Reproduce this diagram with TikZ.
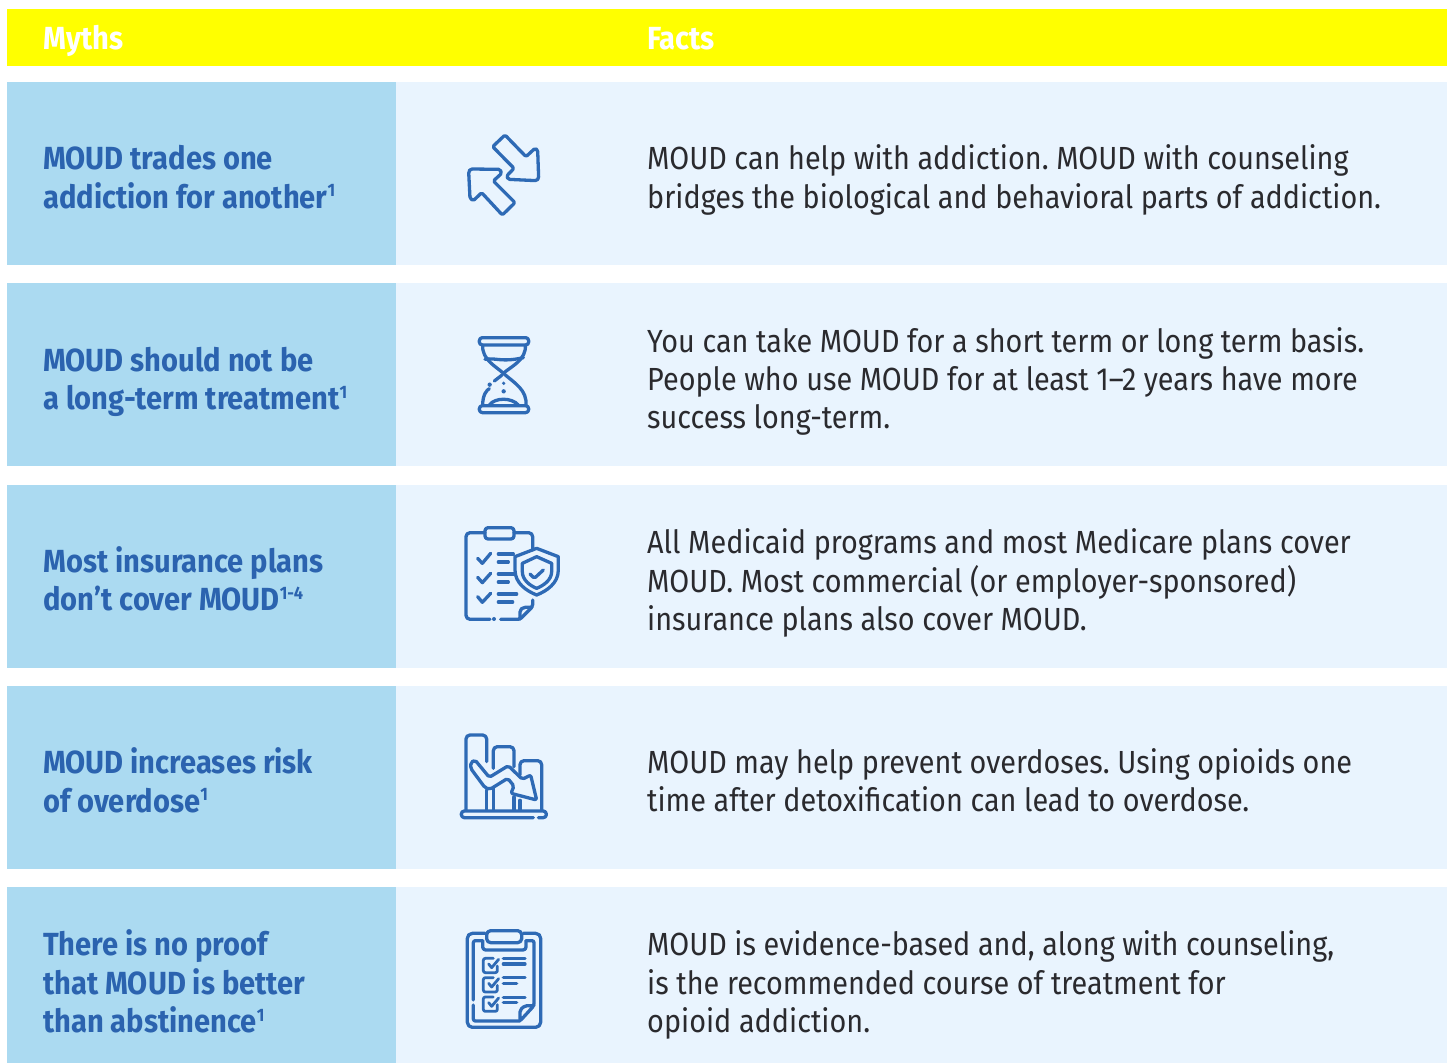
\documentclass[tikz,border=0pt]{standalone}
\usepackage{fontspec}
\setmainfont{Fira Sans}[FakeStretch=0.90]
\newfontfamily\mythfont{Fira Sans}[FakeStretch=0.91]
\definecolor{hdr}{HTML}{FFFF00}
\definecolor{mythbg}{HTML}{ABDAF1}
\definecolor{factbg}{HTML}{E9F4FE}
\definecolor{ink}{HTML}{2B63AF}
\definecolor{facttxt}{HTML}{2A2A2E}
\definecolor{ic}{HTML}{2E6AB5}
\newcommand\supr[1]{\raisebox{.36em}{\fontsize{18}{18}\selectfont #1}}
\tikzset{
 myth/.style={anchor=west,inner sep=0pt,align=left,text=ink,font=\mythfont\fontsize{32}{38.5}\selectfont\bfseries\frenchspacing},
 fact/.style={anchor=west,inner sep=0pt,align=left,text=facttxt,font=\fontsize{32}{38.4}\selectfont\frenchspacing},
 head/.style={anchor=base west,inner sep=0pt,text=white,font=\mythfont\fontsize{32}{38}\selectfont\bfseries},
 icon/.style={draw=ic,line width=#1,line cap=round,line join=round,rounded corners=1.5pt},
 icon/.default=3.3pt
}
\begin{document}
\begin{tikzpicture}[x=1pt,y=-1pt]
\useasboundingbox (0,0) rectangle (1448,1063);
\fill[white] (0,0) rectangle (1448,1063);
\fill[hdr] (7,9) rectangle (1447,66);
\node[head] (hm) at (43,49) {Myths};
\node[head] (hf) at (647,49) {Facts};
% rows
\foreach \t/\b/\n in {82/265/1,283/466/2,485/668/3,686/869/4,887/1063/5}{
 \fill[mythbg] (7,\t) rectangle (396,\b);
 \fill[factbg] (396,\t) rectangle (1447,\b);
}
\node[myth] (m1) at (43,177) {MOUD trades one\\addiction for another\supr{1}};
\node[myth] (m2) at (43,382) {MOUD should not be\\a long-term treatment\supr{1}};
\node[myth] (m3) at (43,579) {Most insurance plans\\don’t cover MOUD\supr{1-4}};
\node[myth] (m4) at (43,780.5) {MOUD increases risk\\of overdose\supr{1}};
\node[myth] (m5) at (43,981.5) {There is no proof\\that MOUD is better\\than abstinence\supr{1}};
\node[fact] (f1) at (647,180) {MOUD can help with addiction. MOUD with counseling\\bridges the biological and behavioral parts of addiction.};
\node[fact] (f2) at (647,381.5) {You can take MOUD for a short term or long term basis.\\People who use MOUD for at least 1–2 years have more\\success long-term.};
\node[fact] (f3) at (647,583) {All Medicaid programs and most Medicare plans cover\\MOUD. Most commercial (or employer-sponsored)\\insurance plans also cover MOUD.};
\node[fact] (f4) at (647,780.5) {MOUD may help prevent overdoses. Using opioids one\\time after detoxification can lead to overdose.};
\node[fact] (f5) at (647,985) {MOUD is evidence-based and, along with counseling,\\is the recommended course of treatment for\\opioid addiction.};
% icon 1
\begin{scope}[xshift=440pt,yshift=-110pt,x=.3333pt,y=-.3333pt]
\draw[icon] (195,75) -- (158,110) -- (222,175) -- (200,198) -- (205,208) -- (290,212) -- (296,205) -- (293,120) -- (285,115) -- (258,140) -- cycle;
\draw[icon] (187,315) -- (225,278) -- (160,213) -- (185,190) -- (180,178) -- (92,177) -- (86,185) -- (90,265) -- (100,272) -- (125,248) -- cycle;
\end{scope}
% icon 2
\begin{scope}[xshift=440pt,yshift=-320pt,x=.3333pt,y=-.3333pt]
\draw[icon,rounded corners=3pt] (118,53) rectangle (266,75);
\draw[icon,rounded corners=3pt] (118,257) rectangle (266,278);
\draw[icon,rounded corners=0pt] (128,75) .. controls (125,120) and (170,140) .. (190,160) .. controls (212,140) and (260,120) .. (256,75);
\draw[icon,rounded corners=0pt] (190,160) .. controls (225,190) and (262,210) .. (258,257);
\draw[icon,rounded corners=0pt] (128,255) .. controls (128,225) and (140,210) .. (148,206);
\draw[icon,rounded corners=0pt] (163,183) -- (185,166);
\draw[icon,rounded corners=0pt] (135,118) .. controls (165,112) and (185,128) .. (250,113);
\draw[icon,rounded corners=0pt] (148,255) .. controls (165,232) and (215,232) .. (235,255);
\fill[ic] (149,194) circle (6.5);
\fill[ic] (191,190) circle (5.5);
\fill[ic] (191,214) circle (6.5);
\end{scope}
% icon 3
\begin{scope}[xshift=440pt,yshift=-515pt,x=.3333pt,y=-.3333pt]
\draw[icon,rounded corners=3pt] (135,38) rectangle (222,72);
\draw[icon,rounded corners=4pt] (135,53) -- (78,53) -- (78,313) -- (150,313);
\draw[icon,rounded corners=4pt] (222,53) -- (278,53) -- (278,105);
\draw[icon,rounded corners=2pt] (182,313) -- (240,313) -- (278,275) -- (278,255);
\draw[icon,rounded corners=2pt] (240,313) -- (240,285) -- (250,277) -- (276,277);
\fill[ic] (162,312) circle (6);
\draw[icon,rounded corners=0pt] (290,100) -- (355,125) -- (355,165) .. controls (355,205) and (320,228) .. (290,240) .. controls (260,228) and (225,205) .. (225,165) -- (225,125) -- cycle;
\draw[icon,rounded corners=0pt] (290,125) -- (335,145) -- (335,170) .. controls (335,195) and (310,212) .. (290,220) .. controls (270,212) and (247,195) .. (247,170) -- (247,145) -- cycle;
\draw[icon] (270,177) -- (283,190) -- (310,165);
\draw[icon,rounded corners=0pt] (113,130) -- (127,145) -- (152,115);
\draw[icon,rounded corners=0pt] (113,187) -- (127,203) -- (152,175);
\draw[icon,rounded corners=0pt] (113,245) -- (127,262) -- (152,235);
\draw[icon] (175,117) -- (220,117) (175,141) -- (205,141) (175,177) -- (220,177) (175,201) -- (205,201) (175,237) -- (230,237) (175,261) -- (218,261);
\end{scope}
% icon 4
\begin{scope}[xshift=440pt,yshift=-725pt,x=.3333pt,y=-.3333pt]
\draw[icon,rounded corners=4pt] (78,255) -- (78,30) -- (140,30) -- (140,110);
\draw[icon] (140,195) -- (140,255) (160,190) -- (160,255) (222,216) -- (222,255) (240,226) -- (240,255);
\draw[icon,rounded corners=4pt] (160,130) -- (160,65) -- (222,65) -- (222,125);
\draw[icon,rounded corners=4pt] (240,150) -- (240,107) -- (305,107) -- (305,255);
\draw[icon,rounded corners=3pt] (280,278) -- (64,278) -- (64,258) -- (319,258) -- (319,278) -- (295,278);
\draw[icon,rounded corners=2pt] (92,113) -- (105,105) -- (148,157) -- (205,122) -- (247,163) -- (272,150) -- (290,225) -- (213,205) -- (222,183) -- (203,160) -- (150,193) -- (135,188) -- (92,130) -- cycle;
\end{scope}
% icon 5
\begin{scope}[xshift=440pt,yshift=-920pt,x=.3333pt,y=-.3333pt]
\draw[icon,rounded corners=5pt] (135,40) -- (82,40) -- (82,322) -- (302,322) -- (302,40) -- (250,40);
\draw[icon,rounded corners=2pt] (128,62) -- (100,62) -- (100,240);
\draw[icon,rounded corners=2pt] (100,255) -- (100,303) -- (240,303);
\draw[icon,rounded corners=2pt] (258,62) -- (282,62) -- (282,257) -- (240,303) -- (240,270) -- (255,257) -- (282,257);
\draw[icon,rounded corners=4pt] (140,32) rectangle (245,68);
\draw[icon,rounded corners=3pt] (128,62) -- (128,90) -- (258,90) -- (258,62);
\foreach \y in {0,58,116}{
 \draw[icon=2.8pt,rounded corners=2pt] (172,138+\y) -- (172,158+\y) -- (130,158+\y) -- (130,115+\y) -- (160,115+\y);
 \draw[icon=2.8pt,rounded corners=0pt] (146,132+\y) -- (155,143+\y) -- (176,118+\y);
}
\draw[icon] (190,115) -- (255,115) (190,132) -- (255,132) (190,173) -- (255,173) (190,190) -- (230,190) (190,232) -- (255,232) (190,248) -- (230,248);
\end{scope}
\end{tikzpicture}
\end{document}
